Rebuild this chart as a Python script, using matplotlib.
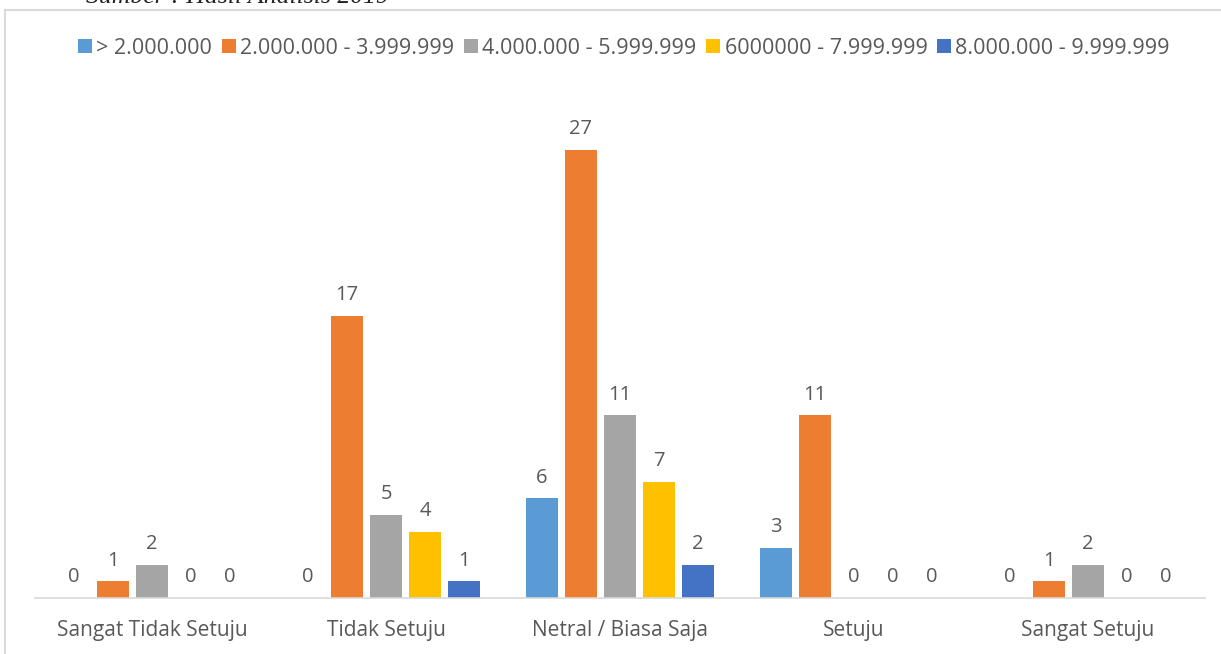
import numpy as np
import matplotlib.pyplot as plt
from matplotlib.patches import Rectangle

categories = ["Sangat Tidak Setuju", "Tidak Setuju", "Netral / Biasa Saja", "Setuju", "Sangat Setuju"]
series_names = ["> 2.000.000", "2.000.000 - 3.999.999", "4.000.000 - 5.999.999",
                "6000000 - 7.999.999", "8.000.000 - 9.999.999"]
s1 = [0, 0, 6, 3, 0]
s2 = [1, 17, 27, 11, 1]
s3 = [2, 5, 11, 0, 2]
s4 = [0, 4, 7, 0, 0]
s5 = [0, 1, 2, 0, 0]
series = [s1, s2, s3, s4, s5]
colors = ["#5B9BD5", "#ED7D31", "#A5A5A5", "#FFC000", "#4472C4"]

plt.rcParams["font.family"] = ["Open Sans", "DejaVu Sans"]
text_color = "#595959"

fig = plt.figure(figsize=(12.21, 6.54), dpi=100)
ax = fig.add_axes([35 / 1221, 1 - 598 / 654, 1170 / 1221, 498 / 654])

x = np.arange(len(categories))
width = 0.137
pitch = 0.1667
handles = []
for i, (vals, col, name) in enumerate(zip(series, colors, series_names)):
    pos = x + (i - 2) * pitch
    bars = ax.bar(pos, vals, width=width, color=col, label=name, zorder=2)
    handles.append(bars)
    for p, v in zip(pos, vals):
        ax.text(p, v + 0.65, str(v), ha="center", va="bottom", fontsize=14.5, color=text_color)

ax.set_xlim(-0.5, len(categories) - 0.5)
ax.set_ylim(0, 30)
ax.set_yticks([])
ax.set_xticks(x)
ax.set_xticklabels(categories, fontsize=15, color=text_color)
ax.tick_params(axis="x", length=0, pad=16)
for side in ["top", "right", "left"]:
    ax.spines[side].set_visible(False)
ax.spines["bottom"].set_color("#D9D9D9")
ax.spines["bottom"].set_linewidth(1.2)

fig.legend(handles=handles, labels=series_names, loc="center", bbox_to_anchor=(624 / 1221, 1 - 48 / 654),
           ncol=5, frameon=False, fontsize=15.5, handlelength=0.65, handleheight=0.65,
           handletextpad=0.2, columnspacing=0.45, labelcolor=text_color)

# chart border (cropped)
fig.patches.append(Rectangle((5 / 1221, -0.1), 1.2, 1 - 10 / 654 + 0.1, transform=fig.transFigure,
                             fill=False, edgecolor="#D9D9D9", linewidth=1.5))

# cut-off source line above the chart
fig.text(237 / 1221, 1.005, "Sumber : Hasil Analisis 2019", ha="center", va="center",
         fontsize=18.5, style="italic", family="Liberation Serif", color="#222222")

fig.savefig("out.png", dpi=100, facecolor="white")
